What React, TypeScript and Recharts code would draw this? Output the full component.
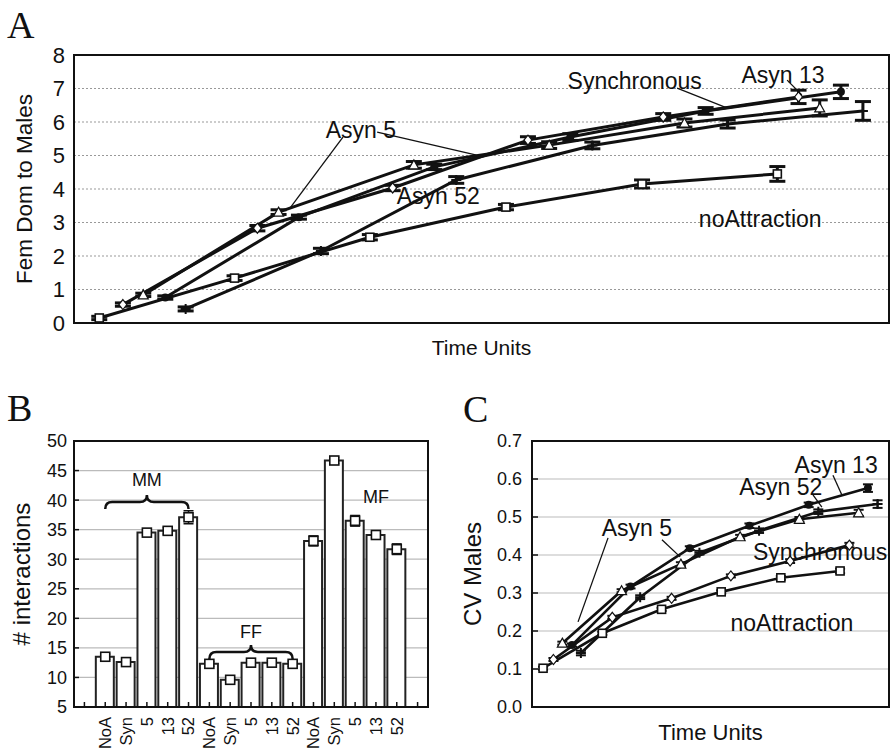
import React from 'react';
import {
  LineChart,
  ComposedChart,
  Line,
  Bar,
  XAxis,
  YAxis,
  CartesianGrid,
  ErrorBar,
  ReferenceArea,
  ReferenceLine,
  ReferenceDot,
  Label,
} from 'recharts';

const FONT = '"Liberation Sans", Arial, sans-serif';
const INK = '#111';

// time units, shared by panels A and C
const tNoA = [3.1, 19.7, 36.3, 53.0, 69.7, 86.3];
const tSyn = [6.0, 22.5, 39.1, 55.7, 72.3, 88.9];
const tAsyn5 = [8.5, 25.1, 41.7, 58.3, 74.9, 91.5];
const tAsyn13 = [11.2, 27.6, 44.2, 60.9, 77.5, 94.1];
const tAsyn52 = [13.7, 30.3, 46.9, 63.6, 80.2, 96.8];

// panel A: Fem Dom to Males
const aNoA = [0.15, 1.34, 2.56, 3.46, 4.15, 4.45];
const aSyn = [0.55, 2.83, 4.03, 5.46, 6.15, 6.75];
const aAsyn5 = [0.84, 3.31, 4.72, 5.31, 5.97, 6.42];
const aAsyn13 = [0.76, 3.16, 4.66, 5.55, 6.33, 6.9];
const aAsyn52 = [0.42, 2.15, 4.27, 5.3, 5.94, 6.33];
const aErrNoA = [0.05, 0.07, 0.08, 0.08, 0.12, 0.22];
const aErrSyn = [0.05, 0.08, 0.08, 0.1, 0.1, 0.2];
const aErrAsyn5 = [0.05, 0.07, 0.1, 0.1, 0.12, 0.24];
const aErrAsyn13 = [0.05, 0.06, 0.08, 0.1, 0.1, 0.2];
const aErrAsyn52 = [0.06, 0.08, 0.1, 0.1, 0.12, 0.28];
const aTicks = [0, 1, 2, 3, 4, 5, 6, 7, 8];

// panel C: CV Males
const cNoA = [0.102, 0.194, 0.257, 0.303, 0.34, 0.358];
const cSyn = [0.125, 0.236, 0.286, 0.345, 0.384, 0.426];
const cAsyn5 = [0.168, 0.306, 0.376, 0.448, 0.494, 0.511];
const cAsyn13 = [0.163, 0.317, 0.418, 0.477, 0.532, 0.576];
const cAsyn52 = [0.142, 0.289, 0.406, 0.464, 0.514, 0.534];
const cErrNoA = [0.004, 0.004, 0.004, 0.004, 0.005, 0.006];
const cErrSyn = [0.004, 0.004, 0.004, 0.004, 0.005, 0.006];
const cErrAsyn5 = [0.004, 0.004, 0.005, 0.005, 0.006, 0.008];
const cErrAsyn13 = [0.004, 0.005, 0.005, 0.006, 0.006, 0.01];
const cErrAsyn52 = [0.006, 0.005, 0.005, 0.006, 0.006, 0.01];
const cTicks = [0, 0.1, 0.2, 0.3, 0.4, 0.5, 0.6, 0.7];

// panel B: # interactions
const bLabels = ['', 'NoA', 'Syn', '5', '13', '52', 'NoA', 'Syn', '5', '13', '52', 'NoA', 'Syn', '5', '13', '52', ''];
const bValues = [null, 13.5, 12.6, 34.5, 34.8, 37.1, 12.3, 9.6, 12.5, 12.5, 12.3, 33.1, 46.7, 36.5, 34.1, 31.7, null];
const bErrors = [null, 0.45, 0.35, 0.4, 0.55, 1.1, 0.4, 0.3, 0.35, 0.35, 0.45, 0.85, 0.5, 0.9, 0.5, 0.9, null];
const bTicks = [5, 10, 15, 20, 25, 30, 35, 40, 45, 50];

type Kind = 'square' | 'diamond' | 'triangle' | 'circle' | 'cross';

const zip = (t: number[], v: number[], e: number[]) => t.map((x, i) => ({ t: x, v: v[i], e: e[i] }));

const seriesA = [
  { name: 'noAttraction', kind: 'square' as Kind, data: zip(tNoA, aNoA, aErrNoA) },
  { name: 'Synchronous', kind: 'diamond' as Kind, data: zip(tSyn, aSyn, aErrSyn) },
  { name: 'Asyn 5', kind: 'triangle' as Kind, data: zip(tAsyn5, aAsyn5, aErrAsyn5) },
  { name: 'Asyn 13', kind: 'circle' as Kind, data: zip(tAsyn13, aAsyn13, aErrAsyn13) },
  { name: 'Asyn 52', kind: 'cross' as Kind, data: zip(tAsyn52, aAsyn52, aErrAsyn52) },
];

const seriesC = [
  { name: 'noAttraction', kind: 'square' as Kind, data: zip(tNoA, cNoA, cErrNoA) },
  { name: 'Synchronous', kind: 'diamond' as Kind, data: zip(tSyn, cSyn, cErrSyn) },
  { name: 'Asyn 5', kind: 'triangle' as Kind, data: zip(tAsyn5, cAsyn5, cErrAsyn5) },
  { name: 'Asyn 13', kind: 'circle' as Kind, data: zip(tAsyn13, cAsyn13, cErrAsyn13) },
  { name: 'Asyn 52', kind: 'cross' as Kind, data: zip(tAsyn52, cAsyn52, cErrAsyn52) },
];

const notesA = [
  { text: 'Asyn 5', t: 35.2, v: 5.76 },
  { text: 'Synchronous', t: 68.8, v: 7.22 },
  { text: 'Asyn 13', t: 87.0, v: 7.4 },
  { text: 'Asyn 52', t: 44.7, v: 3.79 },
  { text: 'noAttraction', t: 84.2, v: 3.1 },
];
const pointersA = [
  { t1: 33.0, v1: 5.55, t2: 26.5, v2: 3.43 },
  { t1: 37.2, v1: 5.7, t2: 49.4, v2: 5.01 },
  { t1: 74.0, v1: 7.01, t2: 80.1, v2: 6.42 },
  { t1: 87.5, v1: 7.25, t2: 89.3, v2: 6.81 },
];

const notesC = [
  { text: 'Asyn 13', t: 85.2, v: 0.637 },
  { text: 'Asyn 52', t: 69.7, v: 0.579 },
  { text: 'Asyn 5', t: 29.4, v: 0.471 },
  { text: 'Synchronous', t: 80.7, v: 0.408 },
  { text: 'noAttraction', t: 72.8, v: 0.221 },
];
const pointersC = [
  { t1: 21.3, v1: 0.445, t2: 12.9, v2: 0.224 },
  { t1: 36.4, v1: 0.44, t2: 41.5, v2: 0.395 },
  { t1: 78.7, v1: 0.558, t2: 81.2, v2: 0.526 },
  { t1: 84.3, v1: 0.61, t2: 86.8, v2: 0.558 },
];

const bData = bLabels.map((_, i) => ({ id: i, v: bValues[i], e: bErrors[i] }));

function Marker({ kind, cx, cy, s = 4 }: { kind: Kind; cx?: number; cy?: number; s?: number }) {
  if (cx == null || cy == null || isNaN(cy)) return <g />;
  switch (kind) {
    case 'square':
      return <rect x={cx - s} y={cy - s} width={2 * s} height={2 * s} fill="#fff" stroke={INK} strokeWidth={1.6} />;
    case 'diamond':
      return (
        <polygon
          points={`${cx},${cy - s - 1} ${cx + s},${cy} ${cx},${cy + s + 1} ${cx - s},${cy}`}
          fill="#fff"
          stroke={INK}
          strokeWidth={1.2}
        />
      );
    case 'triangle':
      return (
        <polygon
          points={`${cx},${cy - s - 1} ${cx + s + 1},${cy + s} ${cx - s - 1},${cy + s}`}
          fill="#fff"
          stroke={INK}
          strokeWidth={1.2}
        />
      );
    case 'circle':
      return <circle cx={cx} cy={cy} r={s} fill={INK} />;
    default:
      return (
        <path
          d={`M${cx - s - 1},${cy}H${cx + s + 1}M${cx},${cy - s - 1}V${cy + s + 1}`}
          stroke={INK}
          strokeWidth={2}
          fill="none"
        />
      );
  }
}

const vTitle = (text: string, size: number, x: number) => (p: any) => {
  const vb = p.viewBox || {};
  const cy = (vb.y || 0) + (vb.height || 0) / 2;
  return (
    <text
      x={x}
      y={cy}
      transform={`rotate(-90 ${x} ${cy})`}
      textAnchor="middle"
      dominantBaseline="central"
      fontSize={size}
      fill={INK}
      fontFamily={FONT}
    >
      {text}
    </text>
  );
};

const hTitle = (text: string, size: number, dy: number) => (p: any) => {
  const vb = p.viewBox || {};
  const cx = (vb.x || 0) + (vb.width || 0) / 2;
  const cy = (vb.y || 0) + dy;
  return (
    <text x={cx} y={cy} textAnchor="middle" dominantBaseline="central" fontSize={size} fill={INK} fontFamily={FONT}>
      {text}
    </text>
  );
};

const noteShape = (text: string, size: number) => (p: any) => (
  <text
    x={p.cx}
    y={p.cy}
    textAnchor="middle"
    dominantBaseline="central"
    fontSize={size}
    fill={INK}
    fontFamily={FONT}
  >
    {text}
  </text>
);

function Brace(p: any) {
  const { x1, x2, y1 } = p;
  const m = (x1 + x2) / 2;
  const h = 7;
  const d = `M${x1},${y1 + h} Q${x1},${y1} ${x1 + h},${y1} L${m - h},${y1} Q${m},${y1} ${m},${y1 - h} Q${m},${y1} ${m + h},${y1} L${x2 - h},${y1} Q${x2},${y1} ${x2},${y1 + h}`;
  return <path d={d} fill="none" stroke={INK} strokeWidth={2.5} />;
}

function RotTick(p: any) {
  const { x, y, payload } = p;
  return (
    <text
      x={0}
      y={0}
      transform={`translate(${x},${y + 15}) rotate(-90)`}
      textAnchor="end"
      dy="0.36em"
      fontSize={16.5}
      fill={INK}
      fontFamily={FONT}
    >
      {bLabels[payload.value]}
    </text>
  );
}

function PanelA() {
  return (
    <LineChart width={895} height={370} margin={{ top: 55, right: 6, bottom: 0, left: 0 }} style={{ fontFamily: FONT }}>
      <CartesianGrid vertical={false} stroke="#999" strokeDasharray="2 2" />
      <XAxis
        type="number"
        dataKey="t"
        domain={[0, 100]}
        tick={false}
        tickLine={false}
        height={47}
        axisLine={{ stroke: INK, strokeWidth: 2 }}
      >
        <Label content={hTitle('Time Units', 21, 24)} />
      </XAxis>
      <YAxis
        type="number"
        domain={[0, 8]}
        ticks={aTicks}
        width={74}
        tickSize={0}
        tickMargin={9}
        tickLine={false}
        tick={{ fontSize: 22, fill: INK }}
        axisLine={{ stroke: INK, strokeWidth: 2 }}
      >
        <Label content={vTitle('Fem Dom to Males', 22.5, 24)} />
      </YAxis>
      <YAxis
        yAxisId="r"
        orientation="right"
        type="number"
        domain={[0, 8]}
        ticks={aTicks}
        width={0}
        tick={false}
        tickSize={-6}
        tickLine={{ stroke: INK, strokeWidth: 1.5 }}
        axisLine={{ stroke: INK, strokeWidth: 2 }}
      />
      <ReferenceArea x1={0} x2={100} y1={0} y2={8} fill="none" stroke={INK} strokeWidth={2} />
      {pointersA.map((s, i) => (
        <ReferenceLine
          key={'pa' + i}
          segment={[{ x: s.t1, y: s.v1 }, { x: s.t2, y: s.v2 }]}
          stroke={INK}
          strokeWidth={1.3}
        />
      ))}
      {seriesA.map((s) => (
        <Line
          key={s.name}
          data={s.data}
          dataKey="v"
          stroke={INK}
          strokeWidth={3}
          isAnimationActive={false}
          dot={(p: any) => <Marker key={s.name + p.index} kind={s.kind} cx={p.cx} cy={p.cy} />}
        >
          <ErrorBar dataKey="e" width={8} stroke={INK} strokeWidth={3} direction="y" />
        </Line>
      ))}
      {notesA.map((n) => (
        <ReferenceDot key={n.text} x={n.t} y={n.v} r={0} shape={noteShape(n.text, 23)} />
      ))}
    </LineChart>
  );
}

function PanelB() {
  return (
    <ComposedChart
      width={450}
      height={371}
      data={bData}
      margin={{ top: 61, right: 22, bottom: 0, left: 0 }}
      style={{ fontFamily: FONT }}
    >
      <CartesianGrid vertical={false} stroke="#bbb" strokeWidth={1.2} />
      <XAxis
        dataKey="id"
        type="category"
        interval={0}
        height={44}
        tickSize={-5}
        tickMargin={0}
        tickLine={{ stroke: INK, strokeWidth: 1.5 }}
        axisLine={{ stroke: INK, strokeWidth: 2 }}
        tick={(p: any) => <RotTick key={'t' + p.index} {...p} />}
      />
      <XAxis
        xAxisId="top"
        dataKey="id"
        type="category"
        orientation="top"
        interval={0}
        height={0}
        tick={false}
        tickSize={-5}
        tickLine={{ stroke: INK, strokeWidth: 1.5 }}
        axisLine={{ stroke: INK, strokeWidth: 2 }}
      />
      <YAxis
        type="number"
        domain={[5, 50]}
        ticks={bTicks}
        width={74}
        tickSize={-5}
        tickMargin={12}
        tickLine={{ stroke: INK, strokeWidth: 1.5 }}
        tick={{ fontSize: 18, fill: INK }}
        axisLine={{ stroke: INK, strokeWidth: 2 }}
      >
        <Label content={vTitle('# interactions', 24, 21)} />
      </YAxis>
      <YAxis
        yAxisId="r"
        orientation="right"
        type="number"
        domain={[5, 50]}
        ticks={bTicks}
        width={0}
        tick={false}
        tickSize={-5}
        tickLine={{ stroke: INK, strokeWidth: 1.5 }}
        axisLine={{ stroke: INK, strokeWidth: 2 }}
      />
      <ReferenceArea y1={5} y2={50} fill="none" stroke={INK} strokeWidth={2} />
      <Bar dataKey="v" barSize={18} fill="#fff" stroke="#222" strokeWidth={2} isAnimationActive={false} />
      <Line
        dataKey="v"
        stroke="none"
        isAnimationActive={false}
        dot={(p: any) => <Marker key={'b' + p.index} kind="square" cx={p.cx} cy={p.cy} s={4.5} />}
      >
        <ErrorBar dataKey="e" width={5} stroke={INK} strokeWidth={1.5} direction="y" />
      </Line>
      <ReferenceLine segment={[{ x: 1, y: 39.7 }, { x: 5, y: 39.7 }]} shape={Brace} />
      <ReferenceLine segment={[{ x: 6, y: 14.3 }, { x: 10, y: 14.3 }]} shape={Brace} />
      <ReferenceDot x={3} y={43.4} r={0} shape={noteShape('MM', 18)} />
      <ReferenceDot x={8} y={17.7} r={0} shape={noteShape('FF', 18)} />
      <ReferenceDot x={14} y={40.5} r={0} shape={noteShape('MF', 18)} />
    </ComposedChart>
  );
}

function PanelC() {
  return (
    <LineChart width={445} height={371} margin={{ top: 61, right: 6, bottom: 0, left: 0 }} style={{ fontFamily: FONT }}>
      <CartesianGrid vertical={false} stroke="#bbb" strokeWidth={1.2} />
      <XAxis
        type="number"
        dataKey="t"
        domain={[0, 100]}
        tick={false}
        tickLine={false}
        height={44}
        axisLine={{ stroke: INK, strokeWidth: 2 }}
      >
        <Label content={hTitle('Time Units', 22, 25)} />
      </XAxis>
      <YAxis
        type="number"
        domain={[0, 0.7]}
        ticks={cTicks}
        width={82}
        tickSize={-6}
        tickMargin={16}
        tickLine={{ stroke: INK, strokeWidth: 1.5 }}
        tickFormatter={(v: number) => v.toFixed(1)}
        tick={{ fontSize: 18, fill: INK }}
        axisLine={{ stroke: INK, strokeWidth: 2 }}
      >
        <Label content={vTitle('CV Males', 24, 22)} />
      </YAxis>
      <ReferenceArea x1={0} x2={100} y1={0} y2={0.7} fill="none" stroke={INK} strokeWidth={2} />
      {pointersC.map((s, i) => (
        <ReferenceLine
          key={'pc' + i}
          segment={[{ x: s.t1, y: s.v1 }, { x: s.t2, y: s.v2 }]}
          stroke={INK}
          strokeWidth={1.3}
        />
      ))}
      {seriesC.map((s) => (
        <Line
          key={s.name}
          data={s.data}
          dataKey="v"
          stroke={INK}
          strokeWidth={2.6}
          isAnimationActive={false}
          dot={(p: any) => <Marker key={s.name + p.index} kind={s.kind} cx={p.cx} cy={p.cy} />}
        >
          <ErrorBar dataKey="e" width={5} stroke={INK} strokeWidth={2} direction="y" />
        </Line>
      ))}
      {notesC.map((n) => (
        <ReferenceDot key={n.text} x={n.t} y={n.v} r={0} shape={noteShape(n.text, 23)} />
      ))}
    </LineChart>
  );
}

export default function App() {
  return (
    <div style={{ position: 'absolute', left: 0, top: 0, width: 895, height: 751, background: '#fff', overflow: 'hidden' }}>
      <div style={{ position: 'absolute', left: 0, top: 0 }}>
        <PanelA />
      </div>
      <div style={{ position: 'absolute', left: 0, top: 380 }}>
        <PanelB />
      </div>
      <div style={{ position: 'absolute', left: 450, top: 380 }}>
        <PanelC />
      </div>
      <svg
        width={895}
        height={751}
        style={{ position: 'absolute', left: 0, top: 0, pointerEvents: 'none' }}
        fontFamily='"Liberation Serif", "Times New Roman", serif'
        fontSize={38}
        fill={INK}
      >
        <text x={7} y={38}>A</text>
        <text x={7} y={421}>B</text>
        <text x={463} y={422}>C</text>
      </svg>
    </div>
  );
}
